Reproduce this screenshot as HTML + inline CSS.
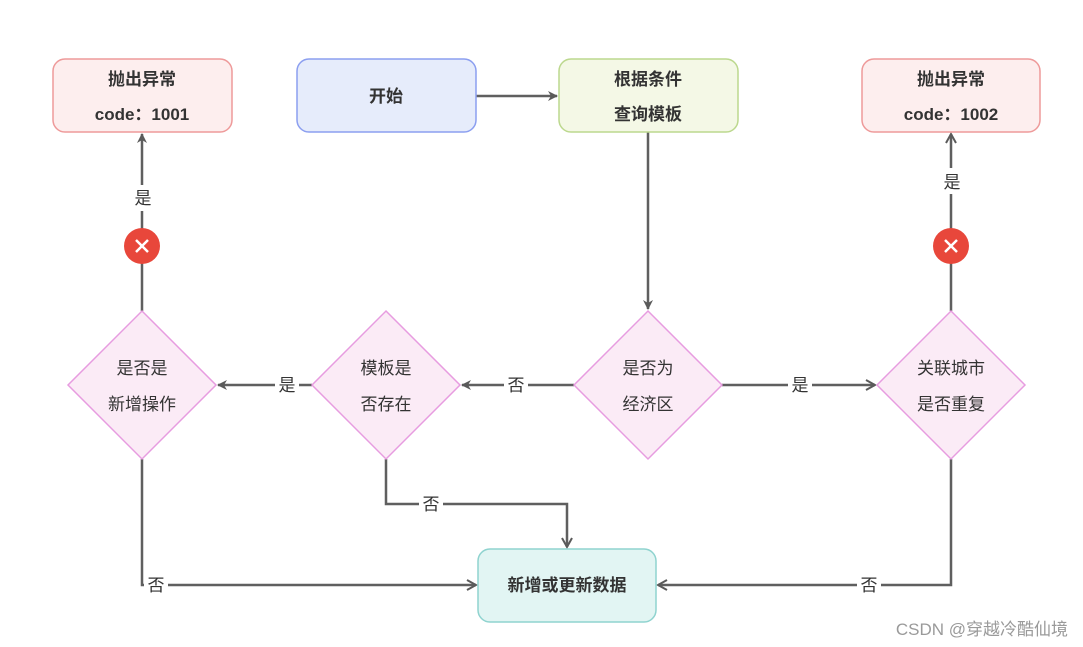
<!DOCTYPE html>
<html><head><meta charset="utf-8"><style>
html,body{margin:0;padding:0;background:#fff;}
svg{display:block;}
text{font-family:"Liberation Sans","Noto Sans CJK SC",sans-serif;fill:#333;}
.b{font-weight:bold;font-size:17px;}
.n{font-size:17px;}
</style></head><body>
<svg width="1083" height="647" viewBox="0 0 1083 647" xmlns="http://www.w3.org/2000/svg">
<defs>
<marker id="a" markerWidth="10" markerHeight="10" refX="9" refY="5" orient="auto" markerUnits="userSpaceOnUse">
<path d="M0,0 L10,5 L0,10 L3,5 Z" fill="#5a5a5a"/></marker>
<marker id="o" markerWidth="12" markerHeight="12" refX="10" refY="6" orient="auto" markerUnits="userSpaceOnUse">
<path d="M1,1 L10,6 L1,11" fill="none" stroke="#5a5a5a" stroke-width="2"/></marker>
</defs>
<g stroke="#5f5f5f" stroke-width="2.5" fill="none">
<line x1="476" y1="96" x2="557" y2="96" marker-end="url(#a)"/>
<line x1="648" y1="132" x2="648" y2="309" marker-end="url(#a)"/>
<line x1="574" y1="385" x2="462" y2="385" marker-end="url(#a)"/>
<line x1="312" y1="385" x2="218" y2="385" marker-end="url(#a)"/>
<line x1="722" y1="385" x2="875" y2="385" marker-end="url(#o)"/>
<line x1="142" y1="311" x2="142" y2="134" marker-end="url(#a)"/>
<line x1="951" y1="311" x2="951" y2="134" marker-end="url(#o)"/>
<polyline points="386,459 386,504 567,504 567,547" marker-end="url(#o)"/>
<polyline points="142,459 142,585 476,585" marker-end="url(#o)"/>
<polyline points="951,459 951,585 658,585" marker-end="url(#o)"/>
</g>
<!-- label backgrounds -->
<g fill="#fff">
<rect x="132" y="185" width="22" height="26"/>
<rect x="941" y="168" width="22" height="26"/>
<rect x="504" y="373" width="24" height="24"/>
<rect x="275" y="373" width="24" height="24"/>
<rect x="788" y="373" width="24" height="24"/>
<rect x="419" y="492" width="24" height="24"/>
<rect x="144" y="573" width="24" height="24"/>
<rect x="857" y="573" width="24" height="24"/>
</g>
<g class="n" text-anchor="middle">
<text x="143" y="204">是</text>
<text x="952" y="188">是</text>
<text x="516" y="391">否</text>
<text x="287" y="391">是</text>
<text x="800" y="391">是</text>
<text x="431" y="510">否</text>
<text x="156" y="591">否</text>
<text x="869" y="591">否</text>
</g>
<!-- boxes -->
<rect x="53" y="59" width="179" height="73" rx="12" fill="#fdeeee" stroke="#ee9a9a" stroke-width="1.5"/>
<text class="b" x="142" y="85" text-anchor="middle">抛出异常</text>
<text class="b" x="142" y="120" text-anchor="middle">code：1001</text>
<rect x="297" y="59" width="179" height="73" rx="12" fill="#e6ecfb" stroke="#8c9ff0" stroke-width="1.5"/>
<text class="b" x="386" y="102" text-anchor="middle">开始</text>
<rect x="559" y="59" width="179" height="73" rx="12" fill="#f4f8e6" stroke="#bcd88e" stroke-width="1.5"/>
<text class="b" x="648" y="85" text-anchor="middle">根据条件</text>
<text class="b" x="648" y="120" text-anchor="middle">查询模板</text>
<rect x="862" y="59" width="178" height="73" rx="12" fill="#fdeeee" stroke="#ee9a9a" stroke-width="1.5"/>
<text class="b" x="951" y="85" text-anchor="middle">抛出异常</text>
<text class="b" x="951" y="120" text-anchor="middle">code：1002</text>
<rect x="478" y="549" width="178" height="73" rx="12" fill="#e2f5f3" stroke="#8fd3cf" stroke-width="1.5"/>
<text class="b" x="567" y="591" text-anchor="middle">新增或更新数据</text>
<!-- diamonds -->
<g fill="#fbebf6" stroke="#e79ce0" stroke-width="1.5">
<polygon points="142,311 216,385 142,459 68,385"/>
<polygon points="386,311 460,385 386,459 312,385"/>
<polygon points="648,311 722,385 648,459 574,385"/>
<polygon points="951,311 1025,385 951,459 877,385"/>
</g>
<g class="n" text-anchor="middle">
<text x="142" y="374">是否是</text><text x="142" y="410">新增操作</text>
<text x="386" y="374">模板是</text><text x="386" y="410">否存在</text>
<text x="648" y="374">是否为</text><text x="648" y="410">经济区</text>
<text x="951" y="374">关联城市</text><text x="951" y="410">是否重复</text>
</g>
<!-- x circles -->
<circle cx="142" cy="246" r="18" fill="#e8473b"/>
<circle cx="951" cy="246" r="18" fill="#e8473b"/>
<g stroke="#fff" stroke-width="2.5">
<line x1="136" y1="240" x2="148" y2="252"/><line x1="148" y1="240" x2="136" y2="252"/>
<line x1="945" y1="240" x2="957" y2="252"/><line x1="957" y1="240" x2="945" y2="252"/>
</g>
<text x="1068" y="635" text-anchor="end" style="font-size:17px;fill:#9a9a9a;">CSDN @穿越冷酷仙境</text>
</svg>
</body></html>
